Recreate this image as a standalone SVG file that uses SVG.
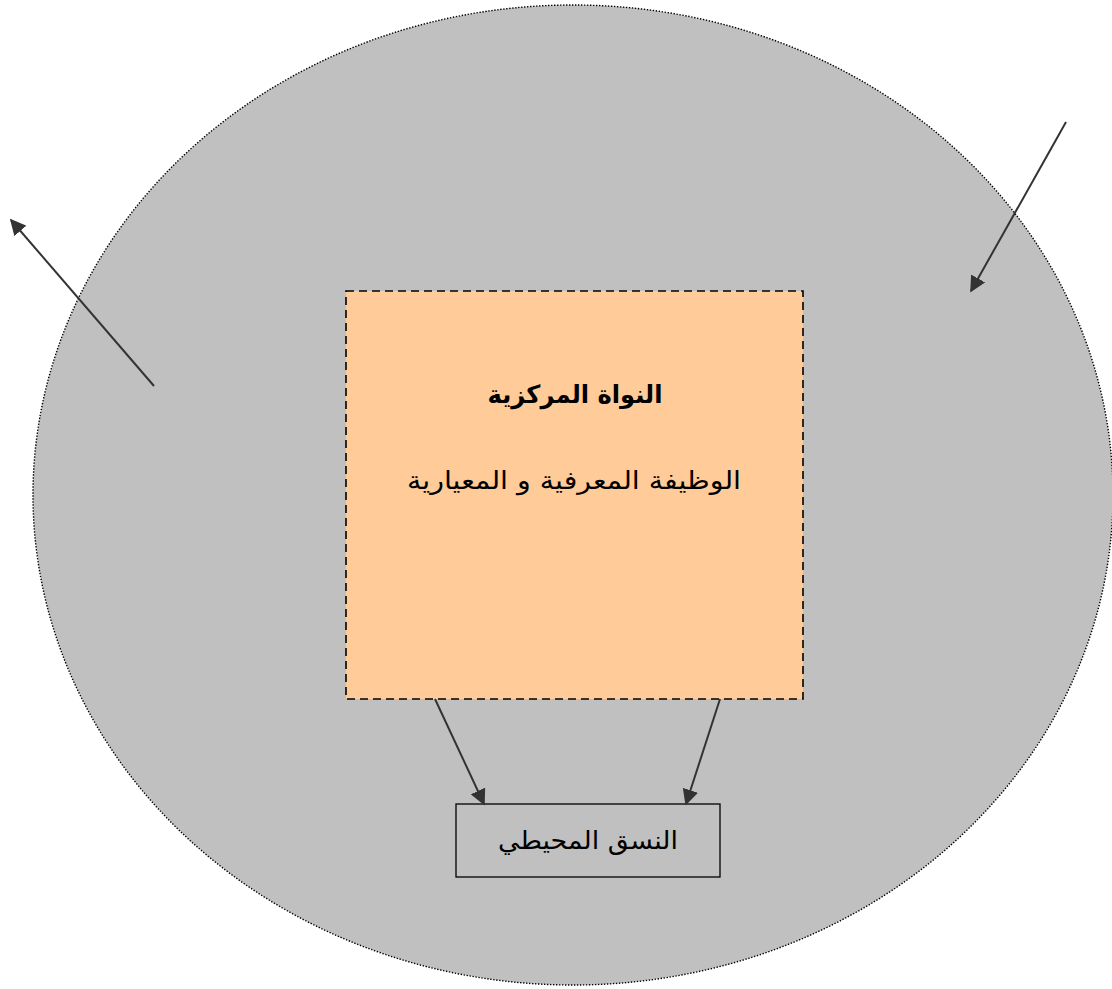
<svg xmlns="http://www.w3.org/2000/svg" width="1112" height="989" viewBox="0 0 1112 989">
<style>
.t{font-family:"DejaVu Sans","Liberation Sans",sans-serif;fill:#000;text-anchor:middle}
</style>
<defs>
<marker id="ah2" viewBox="0 0 10 10" refX="9" refY="5" markerWidth="16" markerHeight="16" markerUnits="userSpaceOnUse" orient="auto">
<path d="M0,0 L10,5 L0,10 z" fill="#333"/>
</marker>
</defs>
<rect width="1112" height="989" fill="#fff"/>
<g id="outer">
<ellipse cx="573" cy="495" rx="540" ry="490" fill="#c0c0c0" stroke="#000" stroke-width="1.4" stroke-dasharray="1.4 1.6"/>
</g>
<g id="core">
<rect x="346" y="291" width="457" height="408" fill="#ffcc99" stroke="#000" stroke-width="1.6" stroke-dasharray="8 5"/>
<text class="t" x="575" y="403" font-size="25" font-weight="bold" direction="rtl" textLength="175" lengthAdjust="spacingAndGlyphs">النواة المركزية</text>
<text class="t" x="574" y="489" font-size="25" direction="rtl" textLength="334" lengthAdjust="spacingAndGlyphs">الوظيفة المعرفية و  المعيارية</text>
</g>
<g id="periph">
<rect x="456" y="804" width="264" height="73" fill="none" stroke="#000" stroke-width="1.3"/>
<text class="t" x="588" y="849" font-size="25" direction="rtl" textLength="180" lengthAdjust="spacingAndGlyphs">النسق المحيطي</text>
</g>
<g id="connectors">
<line x1="154" y1="386" x2="11" y2="220" stroke="#333" stroke-width="2" marker-end="url(#ah2)"/>
<line x1="1066" y1="122" x2="971" y2="291" stroke="#333" stroke-width="2" marker-end="url(#ah2)"/>
<line x1="435" y1="699" x2="484" y2="804" stroke="#333" stroke-width="2" marker-end="url(#ah2)"/>
<line x1="720" y1="699" x2="686" y2="804" stroke="#333" stroke-width="2" marker-end="url(#ah2)"/>
</g>
</svg>
